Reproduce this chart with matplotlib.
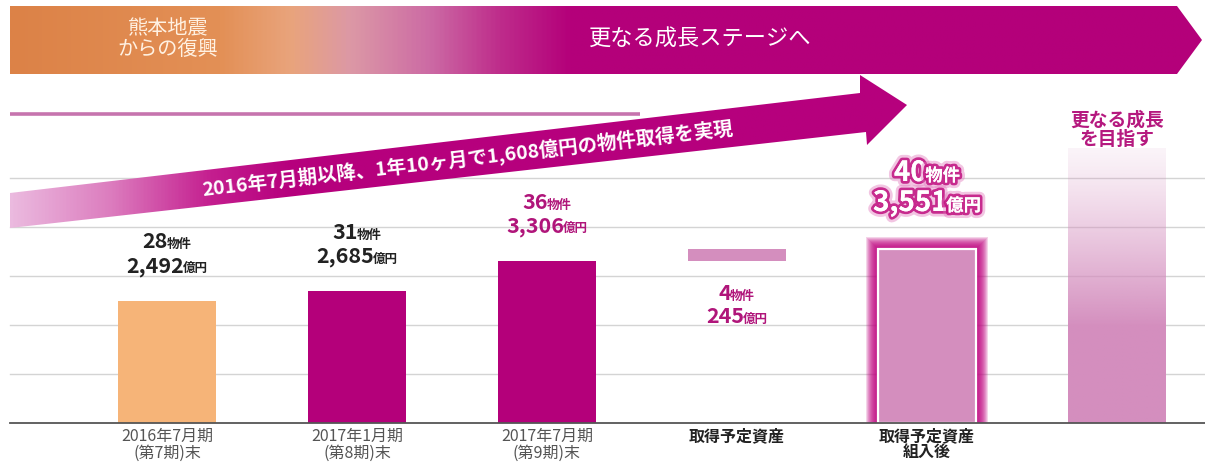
import numpy as np
import matplotlib.pyplot as plt
import matplotlib.patheffects as pe
from matplotlib.patches import Polygon, Rectangle
from matplotlib.colors import LinearSegmentedColormap, to_rgb
from matplotlib.offsetbox import TextArea, HPacker, AnnotationBbox

plt.rcParams['font.family'] = ['Noto Sans CJK JP', 'DejaVu Sans']

# 期末ごとの物件数と資産規模（億円）
periods = ['2016年7月期\n(第7期)末', '2017年1月期\n(第8期)末', '2017年7月期\n(第9期)末',
           '取得予定資産', '取得予定資産\n組入後', '']
counts = [28, 31, 36, 4, 40]
amounts = [2492, 2685, 3306, 245, 3551]
growth_top = 5600
grid_levels = [1000, 2000, 3000, 4000, 5000]

banner_left = '熊本地震\nからの復興'
banner_right = '更なる成長ステージへ'
arrow_text = '2016年7月期以降、1年10ヶ月で1,608億円の物件取得を実現'
growth_text = '更なる成長\nを目指す'

MAGENTA = '#B4007A'
ORANGE_BAR = '#F6B478'
PINK_BAR = '#D48EBE'

W, H = 1205, 465
fig = plt.figure(figsize=(W / 100, H / 100), dpi=100)
fig.patch.set_facecolor('white')

# bar axes: one category every 190 px, 1000 億円 every 49 px, baseline at 423 px
PX_X = 190.0
PX_Y = 0.049
ax = fig.add_axes([0, 0, 1, 1])
x_lo, x_hi = -167 / PX_X, (W - 167) / PX_X
y_lo, y_hi = -(H - 423) / PX_Y, 423 / PX_Y
ax.set_xlim(x_lo, x_hi)
ax.set_ylim(y_lo, y_hi)
ax.axis('off')


def py(p):
    # pixel row -> data value
    return (423 - p) / PX_Y


for g in grid_levels:
    ax.axhline(g, xmin=10 / W, xmax=1, color='#D4D4D4', lw=1.0, zorder=0)
ax.axhline(0, xmin=10 / W, xmax=1, color='#555555', lw=1.3, zorder=5)

bw = 98 / PX_X
x = np.arange(len(periods))

# 実績
ax.bar(x[0], amounts[0], width=bw, color=ORANGE_BAR, zorder=2)
ax.bar(x[1:3], amounts[1:3], width=bw, color=MAGENTA, zorder=2)
# 取得予定資産（上乗せ分）
ax.bar(x[3], amounts[3], bottom=amounts[2], width=bw, color=PINK_BAR, zorder=2)

# 組入後: glow around the bar
for k in range(12, 0, -1):
    ax.add_patch(Rectangle((x[4] - bw / 2 - k / PX_X, 0), bw + 2 * k / PX_X,
                           amounts[4] + k / PX_Y, color='#C0007F', alpha=0.17,
                           lw=0, zorder=2))
ax.bar(x[4], amounts[4], width=bw, color=PINK_BAR, edgecolor='white', lw=1.6, zorder=3)

# 更なる成長: fading bar
n = 200
alpha = 0.10 + 0.90 * np.clip(np.linspace(0, 1, n) / 0.65, 0, 1) ** 1.2
grad = np.zeros((n, 1, 4))
grad[:, 0, :3] = to_rgb(PINK_BAR)
grad[:, 0, 3] = alpha
ax.imshow(grad, extent=[x[5] - bw / 2, x[5] + bw / 2, 0, growth_top],
          origin='upper', aspect='auto', zorder=2)
ax.set_xlim(x_lo, x_hi)
ax.set_ylim(y_lo, y_hi)


def value_label(xc, y, parts, color, dy=0, effects=None):
    boxes = []
    for s, fs in parts:
        props = dict(fontsize=fs, color=color, fontweight='bold')
        if effects:
            props['path_effects'] = effects
        boxes.append(TextArea(s, textprops=props))
    pack = HPacker(children=boxes, align='baseline', pad=0, sep=-1)
    ab = AnnotationBbox(pack, (xc, y), xybox=(0, dy), xycoords='data',
                        boxcoords='offset pixels', frameon=False,
                        box_alignment=(0.5, 0.5), pad=0, zorder=6)
    ax.add_artist(ab)


for i, c in zip([0, 1, 2], ['#222222', '#222222', '#B0157A']):
    value_label(x[i], amounts[i], [(f'{counts[i]}', 15.5), ('物件', 9)], c, dy=59)
    value_label(x[i], amounts[i], [(f'{amounts[i]:,}', 15.5), ('億円', 9)], c, dy=35)

value_label(x[3], amounts[2], [(f'{counts[3]}', 15.5), ('物件', 9)], '#B0157A', dy=-32)
value_label(x[3], amounts[2], [(f'{amounts[3]}', 15.5), ('億円', 9)], '#B0157A', dy=-55)

glow = [pe.withStroke(linewidth=8, foreground='#E070B8', alpha=0.4),
        pe.withStroke(linewidth=4, foreground='#C0107F', alpha=0.85), pe.Normal()]
value_label(x[4], amounts[4], [(f'{counts[4]}', 20), ('物件', 12.5)], 'white', dy=76, effects=glow)
value_label(x[4], amounts[4], [(f'{amounts[4]:,}', 20), ('億円', 12.5)], 'white', dy=46, effects=glow)

ax.text(x[5], py(130), growth_text, ha='center', va='center', fontsize=13.5,
        fontweight='bold', color='#B5197F', linespacing=1.05, zorder=6)

for i, lab in enumerate(periods[:3]):
    ax.text(x[i], py(428), lab, ha='center', va='top', fontsize=11.5,
            color='#555555', linespacing=1.0)
for i in (3, 4):
    ax.text(x[i], py(428), periods[i], ha='center', va='top', fontsize=11.5,
            fontweight='bold', color='#222222', linespacing=1.0)

# decorations in pixel space
deco = fig.add_axes([0, 0, 1, 1])
deco.set_zorder(ax.get_zorder() + 1)
deco.patch.set_alpha(0)


def hgrad(stops, x0, x1, y0, y1, clip):
    pos = [(s - x0) / (x1 - x0) for s, _ in stops]
    cmap = LinearSegmentedColormap.from_list('g', list(zip(pos, [c for _, c in stops])))
    img = deco.imshow(np.linspace(0, 1, 512)[None, :], extent=[x0, x1, y1, y0],
                      cmap=cmap, aspect='auto', interpolation='bilinear')
    img.set_clip_path(clip)


# banner
banner = Polygon([(10, 6), (1177, 6), (1202, 40), (1177, 74), (10, 74)],
                 closed=True, fc='none', ec='none')
deco.add_patch(banner)
hgrad([(10, '#DC8247'), (220, '#E39056'), (290, '#E9A47C'), (350, '#DC98A6'),
       (430, '#CC6AA4'), (500, '#BE2C8B'), (570, MAGENTA), (1205, MAGENTA)],
      10, 1205, 6, 74, banner)
deco.text(168, 39, banner_left, ha='center', va='center', fontsize=14.5,
          color='#FFF1E2', linespacing=1.0)
deco.text(700, 39, banner_right, ha='center', va='center', fontsize=16, color='white')

deco.plot([10, 640], [114, 114], color='#C674AE', lw=2.6, solid_capstyle='butt')

# growth arrow
band = Polygon([(10, 193), (860, 93), (860, 75), (907, 105), (867, 145),
                (866, 132), (10, 228)], closed=True, fc='none', ec='none')
deco.add_patch(band)
hgrad([(10, '#EBBADF'), (110, '#DC7CBE'), (210, '#C41E8F'), (290, '#B6007D'),
       (910, '#B6007D')], 10, 910, 70, 230, band)
deco.text(468, 159, arrow_text, ha='center', va='center', fontsize=14,
          fontweight='bold', color='white', rotation=6.6, rotation_mode='anchor')

deco.set_xlim(0, W)
deco.set_ylim(H, 0)
deco.axis('off')

fig.savefig('out.png', dpi=100)
